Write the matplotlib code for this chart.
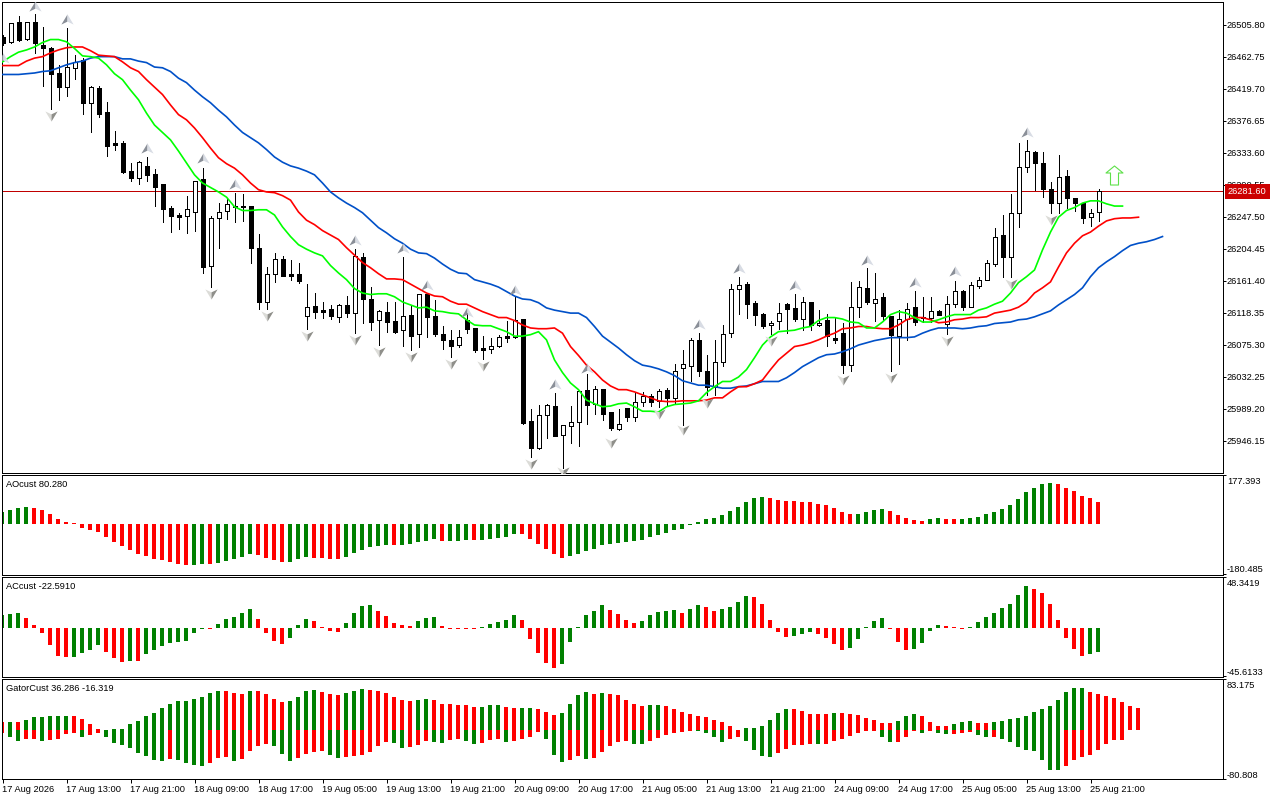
import numpy as np
import matplotlib
matplotlib.use("Agg")
import matplotlib.pyplot as plt
from matplotlib.path import Path
from matplotlib.transforms import ScaledTranslation

plt.rcParams["font.family"] = ["Liberation Sans", "DejaVu Sans"]
plt.rcParams["font.size"] = 6.7

# candles
highs = [26492,26508,26518,26510,26521,26503,26476,26452,26502,26465,
26461,26424,26424,26402,26363,26350,26320,26323,26328,26312,
26291,26262,26252,26276,26296,26313,26249,26266,26272,26280,
26278,26262,26225,26180,26199,26195,26190,26186,26157,26145,
26133,26129,26130,26141,26204,26199,26153,26122,26133,26133,
26194,26128,26144,26145,26136,26100,26095,26095,26118,26098,
26087,26085,26089,26108,26139,26110,25989,25995,25996,26011,
25968,25993,26013,26036,26020,26016,25985,25989,25991,26012,
26012,26009,26016,26017,26050,26069,26085,26091,26062,26082,
26102,26157,26167,26160,26134,26118,26108,26132,26132,26144,
26139,26133,26122,26117,26112,26105,26160,26161,26178,26172,
26145,26114,26122,26132,26148,26140,26139,26122,26141,26161,
26149,26160,26167,26190,26233,26250,26278,26347,26351,26336,
26335,26295,26331,26311,26273,26266,26258,26285]
lows = [26479,26482,26484,26486,26468,26424,26393,26405,26410,26433,
26386,26361,26382,26330,26338,26307,26296,26292,26296,26262,
26241,26227,26231,26226,26229,26172,26153,26206,26245,26241,
26242,26186,26124,26124,26160,26168,26163,26159,26097,26112,
26112,26110,26106,26113,26091,26105,26095,26075,26093,26091,
26074,26069,26073,26086,26087,26070,26059,26073,26091,26066,
26056,26064,26073,26079,26085,25969,25925,25935,25950,25953,
25910,25943,25939,25969,25982,25974,25961,25961,25973,25973,
25993,25993,25992,25995,25997,25968,26026,26034,26008,26008,
26047,26086,26117,26112,26102,26098,26090,26097,26091,26108,
26095,26095,26101,26074,26078,26038,26040,26113,26130,26108,
26109,26040,26050,26082,26102,26106,26106,26116,26090,26126,
26122,26126,26152,26163,26182,26167,26167,26234,26308,26283,
26274,26253,26253,26260,26256,26239,26235,26242]
body_top = [26490,26508,26510,26510,26510,26479,26475,26441,26449,26456,
26459,26422,26421,26389,26347,26347,26309,26321,26316,26305,
26291,26260,26250,26258,26296,26299,26246,26254,26265,26262,
26262,26262,26206,26171,26191,26191,26171,26171,26126,26128,
26122,26124,26129,26129,26195,26194,26137,26121,26120,26108,
26114,26116,26144,26144,26114,26090,26082,26086,26109,26098,
26071,26074,26086,26087,26109,26110,25973,25981,25995,25993,
25968,25972,26013,26015,26016,26016,25985,25969,25991,25999,
26007,26007,26013,26015,26040,26050,26082,26082,26040,26052,
26090,26151,26156,26157,26132,26117,26105,26118,26130,26125,
26133,26133,26105,26109,26085,26091,26126,26153,26152,26137,
26139,26114,26110,26124,26126,26113,26121,26121,26130,26148,
26148,26156,26163,26186,26221,26223,26253,26315,26336,26335,
26320,26285,26301,26303,26273,26266,26253,26282]
body_bot = [26482,26483,26486,26487,26482,26474,26439,26422,26422,26448,
26400,26400,26386,26343,26344,26308,26300,26300,26304,26287,
26258,26249,26247,26249,26254,26180,26182,26246,26256,26261,
26261,26206,26133,26133,26170,26168,26168,26161,26114,26120,
26120,26114,26113,26118,26118,26137,26106,26109,26106,26093,
26095,26087,26090,26113,26090,26082,26074,26075,26097,26069,
26069,26070,26074,26085,26086,25970,25937,25937,25981,25953,
25954,25966,25972,25995,25996,25982,25964,25962,25978,25978,
25999,25999,26000,26004,26004,26044,26047,26040,26019,26019,
26052,26091,26151,26130,26116,26101,26102,26108,26124,26110,
26110,26102,26102,26087,26082,26048,26048,26126,26133,26132,
26114,26089,26087,26110,26106,26112,26112,26116,26104,26130,
26126,26126,26155,26163,26184,26194,26194,26252,26315,26320,
26285,26266,26266,26273,26266,26246,26247,26254]
# 1 = white candle
bull = [0,1,0,1,0,0,0,0,1,1,
0,1,0,0,0,0,0,1,0,0,
0,0,0,1,1,0,1,1,1,1,
1,0,0,1,1,0,0,0,1,0,
0,0,1,0,1,0,0,1,0,0,
1,0,1,0,0,0,0,1,0,0,
0,1,1,0,1,0,0,1,1,0,
1,1,1,0,1,0,0,1,0,1,
1,0,1,0,1,1,1,0,0,1,
1,1,1,0,0,0,1,1,0,0,
1,0,1,0,0,0,1,1,0,1,
0,0,1,1,0,0,1,0,1,1,
0,1,1,1,1,0,1,1,1,0,
0,0,1,0,0,0,1,1]

# moving averages
ma_green = [26456,26463,26469,26472,26476,26482,26486,26486,26483,26474,
26464,26463,26461,26452,26440,26432,26418,26405,26387,26371,
26361,26351,26336,26320,26304,26293,26287,26281,26274,26261,
26256,26256,26257,26257,26250,26234,26221,26210,26204,26199,
26195,26182,26172,26163,26151,26145,26143,26144,26144,26140,
26133,26129,26125,26126,26121,26120,26118,26117,26109,26102,
26101,26101,26097,26093,26087,26087,26089,26093,26082,26055,
26038,26024,26015,26001,25996,25992,25993,25996,25997,25992,
25986,25986,25985,25992,25995,25996,25997,26000,26011,26019,
26026,26026,26032,26042,26058,26075,26086,26093,26094,26095,
26098,26100,26108,26112,26112,26110,26106,26105,26098,26098,
26106,26116,26120,26118,26112,26106,26106,26109,26113,26116,
26116,26116,26122,26125,26130,26134,26145,26159,26167,26176,
26203,26227,26247,26256,26260,26266,26269,26269,26265,26262,26262]
ma_red = [26451,26451,26451,26457,26461,26463,26468,26472,26475,26476,
26476,26471,26465,26464,26463,26456,26448,26443,26432,26422,
26412,26398,26385,26378,26367,26354,26340,26327,26319,26313,
26304,26293,26284,26281,26280,26276,26270,26254,26243,26237,
26229,26223,26217,26206,26196,26186,26179,26171,26164,26164,
26163,26157,26151,26145,26141,26140,26134,26130,26130,26125,
26120,26116,26112,26112,26108,26102,26098,26097,26097,26098,
26091,26073,26061,26048,26039,26028,26020,26015,26015,26012,
26008,26004,26000,25999,25999,26000,26000,26000,26001,26004,
26004,26012,26019,26019,26023,26028,26042,26055,26064,26073,
26075,26078,26082,26087,26091,26097,26098,26100,26100,26098,
26097,26097,26102,26109,26112,26112,26109,26105,26106,26109,
26110,26112,26112,26113,26118,26120,26122,26126,26133,26145,
26152,26160,26180,26199,26212,26222,26227,26235,26242,26245,
26246,26246,26247]
ma_blue = [26439,26439,26439,26440,26441,26443,26444,26448,26452,26455,
26457,26461,26463,26463,26463,26460,26460,26457,26455,26449,
26448,26443,26434,26428,26418,26409,26401,26391,26382,26371,
26361,26354,26347,26338,26328,26321,26316,26313,26309,26304,
26293,26281,26273,26266,26260,26253,26243,26233,26226,26218,
26212,26204,26199,26198,26192,26184,26177,26172,26171,26163,
26160,26157,26153,26147,26141,26137,26136,26132,26125,26122,
26120,26118,26118,26112,26100,26087,26079,26071,26062,26054,
26048,26046,26043,26039,26034,26027,26024,26021,26021,26019,
26017,26017,26019,26020,26023,26026,26026,26026,26031,26038,
26046,26052,26058,26062,26063,26066,26070,26075,26078,26081,
26083,26085,26085,26085,26086,26091,26095,26098,26098,26098,
26097,26098,26100,26101,26104,26105,26106,26109,26110,26113,
26117,26121,26129,26136,26143,26152,26167,26179,26187,26194,
26202,26209,26212,26214,26217,26221]

# fractal arrows: bar number and price
frac_up_bar = [0,4,8,18,25,29,44,50,53,58,64,69,73,87,92,99,108,114,119,128]
frac_up_price = [26461,26531,26514,26340,26326,26292,26217,26206,26156,26120,
26149,26023,26044,26104,26179,26156,26190,26160,26174,26362]
frac_dn_bar = [6,26,33,38,44,47,51,56,60,66,70,76,82,85,88,96,105,111,118,126,131]
frac_dn_price = [26383,26144,26114,26087,26082,26066,26059,26050,26047,25915,25904,
25943,25982,25961,25997,26081,26028,26031,26081,26157,26243]

# oscillators
ao_vals = [43.6,50.9,58.1,61.8,58.1,50.9,36.3,18.2,7.3,3.6,
-14.5,-21.8,-29.1,-47.2,-65.4,-79.9,-94.5,-109,-116.3,-127.2,
-130.8,-138.1,-145.3,-149,-149,-145.3,-145.3,-141.7,-134.4,-127.2,
-119.9,-109,-112.6,-123.5,-130.8,-138.1,-138.1,-127.2,-119.9,-123.5,
-123.5,-127.2,-127.2,-119.9,-105.4,-94.5,-83.6,-79.9,-76.3,-76.3,
-76.3,-72.7,-65.4,-61.8,-54.5,-61.8,-61.8,-61.8,-58.1,-58.1,
-58.1,-54.5,-50.9,-47.2,-36.3,-36.3,-54.5,-72.7,-90.8,-109,
-123.5,-116.3,-109,-98.1,-90.8,-76.3,-72.7,-69,-65.4,-61.8,
-58.1,-47.2,-40,-32.7,-21.8,-18.2,-3.6,7.3,18.2,21.8,
32.7,47.2,61.8,79.9,94.5,98.1,94.5,87.2,83.6,83.6,
79.9,79.9,72.7,69,58.1,43.6,36.3,36.3,43.6,50.9,
54.5,47.2,32.7,21.8,14.5,10.9,18.2,21.8,18.2,18.2,
18.2,21.8,25.4,36.3,43.6,54.5,69,90.8,116.3,130.8,
145.3,149,145.3,130.8,119.9,101.7,94.5,80.28]
ao_cols = ("g"*4 + "r"*20 + "g"*2 + "r" + "g"*5 + "r"*4 + "g"*3 + "r"*4 + "g"*6 + "r" + "g"*5
           + "r" + "g"*3 + "r" + "g"*5 + "r"*6 + "g"*25 + "r"*11 + "g"*4 + "r"*5 + "g"*2
           + "r"*2 + "g"*12 + "r"*6)

ac_vals = [12.2,13.2,14.1,9.4,2.8,-4.7,-16,-26.3,-27.3,-27.3,
-23.5,-20.7,-16,-22.6,-28.2,-32,-31,-31,-24.4,-20.7,
-16.9,-14.1,-13.2,-12.2,-4.7,-0.9,-0.9,3.8,8.5,10.3,
14.1,17.9,8.5,-4.7,-12.2,-15,-9.4,2.8,8.5,6.6,
0.9,-2.8,-3.8,4.7,14.1,20.7,21.6,16,11.3,4.7,
2.8,1.9,6.6,9.4,10.3,1.9,-0.9,-0.9,-0.9,-0.9,
0.9,3.8,5.6,7.5,12.2,7.5,-10.3,-23.5,-32.9,-37.6,
-33.8,-13.2,0.9,12.2,16,21.6,16.9,13.2,7.5,4.7,
6.6,12.2,15,16,16.9,14.1,17.9,21.6,19.7,16,
17.9,19.7,24.4,30.1,29.1,22.6,7.5,-3.8,-8.5,-7.5,
-5.6,-3.8,-5.6,-9.4,-15,-20.7,-18.8,-10.3,0.9,6.6,
9.4,-0.9,-13.2,-20.7,-19.7,-14.1,-2.8,2.8,1.9,0.9,
-0.9,0.9,5.6,10.3,14.1,18.8,22.6,31,39.5,36.7,
32.9,22.6,7.5,-9.4,-19.7,-26.3,-24.4,-22.59]
ac_cols = ("g"*3 + "r"*6 + "g"*4 + "r"*3 + "g" + "r" + "g"*8 + "r" + "g"*5 + "r"*4 + "g"*3 + "r"*4
           + "g"*4 + "r"*5 + "g"*3 + "r"*5 + "g"*5 + "r"*5 + "g"*6 + "r"*4 + "g"*5 + "r" + "g"*2
           + "r"*2 + "g"*4 + "r"*5 + "g"*3 + "r"*4 + "g"*5 + "r"*3 + "g"*4 + "r"*3 + "g"*8
           + "r"*7 + "g"*2)

gator_up = [13.1,13.1,13.1,16.4,21.3,21.3,23,23,23,23,
18,9.8,1.6,0.3,1.6,1.6,9.8,14.8,23,27.9,
36.1,42.6,47.6,47.6,50.8,54.1,60.7,64,64,60.7,
59,64,64,59,50.8,45.9,47.6,54.1,64,65.6,
62.3,59,57.4,60.7,64,67.2,65.6,64,60.7,54.1,
49.2,47.6,49.2,50.8,49.2,42.6,42.6,41,41,37.7,
37.7,41,41,37.7,36.1,36.1,36.1,34.4,29.5,24.6,
27.9,42.6,57.4,62.3,59,60.7,59,57.4,49.2,42.6,
39.4,41,41,39.4,34.4,29.5,26.2,23,21.3,16.4,
13.1,6.6,0.3,3.3,3.3,6.6,16.4,27.9,34.4,34.4,
31.2,26.2,26.2,26.2,27.9,27.9,26.2,24.6,19.7,16.4,
11.5,11.5,14.8,23,26.2,23,13.1,6.6,6.6,9.8,
13.1,14.8,11.5,11.5,13.1,14.8,18,19.7,23,29.5,
34.4,39.4,49.2,62.3,68.9,68.9,62.3,59,55.8,52.5,
45.9,39.4,36.286]
gator_up_cols = ("r" + "g" + "r" + "g"*6 + "r"*4 + "g"*15 + "r"*3 + "g" + "r"*4 + "g"*4 + "r"*3 + "g"*3
                 + "r"*6 + "g"*2 + "r"*6 + "g"*3 + "r"*2 + "g"*2 + "r"*3 + "g"*4 + "r" + "g" + "r"*5
                 + "g"*2 + "r"*10 + "g"*6 + "r"*5 + "g" + "r"*7 + "g"*3 + "r"*4 + "g"*3 + "r"*2
                 + "g"*12 + "r"*7)
gator_dn = [-4.9,-11.5,-18,-14.8,-14.8,-18,-16.4,-14.8,-6.6,-4.9,
-11.5,-8.2,-4.9,-11.5,-21.3,-24.6,-29.5,-37.7,-42.6,-49.2,
-50.8,-47.6,-49.2,-54.1,-57.4,-59,-54.1,-45.9,-44.3,-50.8,
-47.6,-34.4,-26.2,-23,-26.2,-39.4,-50.8,-45.9,-39.4,-36.1,
-34.4,-41,-45.9,-44.3,-42.6,-41,-36.1,-26.2,-19.7,-21.3,
-29.5,-27.9,-24.6,-18,-19.7,-21.3,-16.4,-14.8,-18,-23,
-21.3,-16.4,-14.8,-19.7,-18,-14.8,-11.5,-3.3,-14.8,-41,
-52.5,-49.2,-42.6,-47.6,-45.9,-36.1,-26.2,-19.7,-18,-23,
-23,-18,-13.1,-8.2,-4.9,-3.3,-1.6,-1.6,-4.9,-11.5,
-19.7,-14.8,-11.5,-18,-32.8,-42.6,-44.3,-37.7,-31.2,-24.6,
-24.6,-23,-23,-23,-18,-14.8,-9.8,-4.9,-1.6,-1.6,
-11.5,-19.7,-19.7,-11.5,-1.6,-4.9,-1.6,-4.9,-6.6,-6.6,
-4.9,-3.3,-8.2,-11.5,-11.5,-14.8,-19.7,-27.9,-32.8,-34.4,
-49.2,-65.6,-65.6,-59,-49.2,-44.3,-41,-32.8,-23,-16.4,-16.319]
gator_dn_cols = ("r" + "g"*2 + "r"*2 + "g" + "r"*4 + "g" + "r"*2 + "g"*8 + "r" + "g"*4 + "r"*3 + "g" + "r"*4
                 + "g"*3 + "r"*4 + "g"*2 + "r"*6 + "g"*2 + "r"*3 + "g"*2 + "r"*2 + "g"*2 + "r"*3 + "g"
                 + "r"*4 + "g"*3 + "r"*2 + "g" + "r"*5 + "g"*2 + "r"*6 + "g"*4 + "r"*2 + "g"*4 + "r"*5
                 + "g" + "r"*7 + "g"*2 + "r"*3 + "g" + "r" + "g"*2 + "r"*3 + "g"*2 + "r" + "g"*8 + "r"*8)

# axis text
price_ticks = [26505.80,26462.75,26419.70,26376.65,26333.60,26290.55,26247.50,
               26204.45,26161.40,26118.35,26075.30,26032.25,25989.20,25946.15]
time_labels = ["17 Aug 2026","17 Aug 13:00","17 Aug 21:00","18 Aug 09:00","18 Aug 17:00",
               "19 Aug 05:00","19 Aug 13:00","19 Aug 21:00","20 Aug 09:00","20 Aug 17:00",
               "21 Aug 05:00","21 Aug 13:00","21 Aug 21:00","24 Aug 09:00","24 Aug 17:00",
               "25 Aug 05:00","25 Aug 13:00","25 Aug 21:00"]
last_price = 26281.60

LEFT, RIGHT = 2, 1223
BAR_COLORS = {"g": "#008000", "r": "#ff0000"}


def add_panel(top, bottom):
    ax = fig.add_axes([LEFT/1280, 1-bottom/800, (RIGHT-LEFT)/1280, (bottom-top)/800])
    # first bar sits half a pixel inside the left border
    ax.set_xlim(-0.0625, (RIGHT-2.5)/8)
    ax.yaxis.tick_right()
    ax.tick_params(axis="y", length=2.2, width=0.72, pad=0.6)
    ax.tick_params(axis="x", length=0)
    ax.set_xticks([])
    for s in ax.spines.values():
        s.set_linewidth(0.72)
    return ax


def hist(ax, vals, cols):
    # bars sit half a pixel left of the candles
    x = np.arange(len(vals)) - 0.06
    ax.bar(x, vals, width=0.5, color=[BAR_COLORS[c] for c in cols], antialiased=False)


def osc_ticks(ax, low, high, labels):
    ax.set_yticks([low, high])
    ax.set_yticklabels(labels)
    lab = ax.get_yticklabels()
    lab[0].set_verticalalignment("bottom")
    lab[1].set_verticalalignment("top")
    # top label hangs a little below its tick
    lab[1].set_transform(lab[1].get_transform() + ScaledTranslation(0, -2.5/100, fig.dpi_scale_trans))
    lab[0].set_transform(lab[0].get_transform() + ScaledTranslation(0, -0.5/100, fig.dpi_scale_trans))


def panel_title(ax, s):
    ax.annotate(s, xy=(0, 1), xycoords="axes fraction", xytext=(4, -5),
                textcoords="offset pixels", va="top", ha="left")


fig = plt.figure(figsize=(12.8, 8), dpi=100)

# price panel
ax = add_panel(2, 473)
ax.set_ylim(25902.9, 26536.5)
ax.set_yticks(price_ticks)
ax.set_yticklabels(["%.2f" % p for p in price_ticks])

bars = np.arange(len(highs))
is_up = np.array(bull) == 1
ax.axhline(last_price, color="#c00000", lw=0.72, zorder=1)
ax.vlines(bars, lows, highs, color="black", lw=0.72, antialiased=False, zorder=2)
ax.bar(bars, np.array(body_top)-np.array(body_bot), bottom=body_bot, width=0.5,
       color=np.where(is_up, "white", "black").tolist(), edgecolor="black",
       linewidth=0.72, antialiased=False, zorder=2.5)

ax.plot(ma_blue, color="#0050c8", lw=1.2, zorder=3)
ax.plot(ma_red, color="#ff0000", lw=1.2, zorder=3.1)
ax.plot(ma_green, color="#00ff00", lw=1.2, zorder=3.2)

# fractal arrows, two shaded wings each
up_l = Path([(0, 0.83), (-1, -0.83), (0, -0.35), (0, 0.83)], closed=True)
up_r = Path([(0, 0.83), (1, -0.83), (0, -0.35), (0, 0.83)], closed=True)
dn_l = Path([(0, -0.83), (-1, 0.83), (0, 0.35), (0, -0.83)], closed=True)
dn_r = Path([(0, -0.83), (1, 0.83), (0, 0.35), (0, -0.83)], closed=True)
for m, c, xs, ys in [(up_l, "#8a8f98", frac_up_bar, frac_up_price),
                     (up_r, "#d8dce4", frac_up_bar, frac_up_price),
                     (dn_l, "#dcdcd8", frac_dn_bar, frac_dn_price),
                     (dn_r, "#8f8f8a", frac_dn_bar, frac_dn_price)]:
    ax.plot(xs, ys, ls="none", marker=m, ms=8.8, mfc=c, mec="none", zorder=4)

# signal arrow
sig = Path([(0, 9.5), (8.5, 2.5), (4, 2.5), (4, -9.5), (-4, -9.5), (-4, 2.5), (-8.5, 2.5), (0, 9.5)],
           closed=True)
ax.plot([138.9], [26303.3], ls="none", marker=sig, ms=13.7, mfc="white", mec="#5fe04a",
        mew=0.8, zorder=4)

ax.annotate("%.2f" % last_price, xy=(1, last_price), xycoords=("axes fraction", "data"),
            xytext=(5, 0), textcoords="offset pixels", va="center", ha="left", color="white",
            bbox=dict(boxstyle="square,pad=0.3", fc="#cc0000", ec="none"),
            annotation_clip=False, zorder=6)

# oscillators
ao = add_panel(475, 575)
ao.set_ylim(-184.1, 177.393)
hist(ao, ao_vals, ao_cols)
osc_ticks(ao, -180.485, 177.393, ["-180.485", "177.393"])
panel_title(ao, "AOcust 80.280")

ac = add_panel(577, 677)
ac.set_ylim(-46.55, 48.3419)
hist(ac, ac_vals, ac_cols)
osc_ticks(ac, -45.6133, 48.3419, ["-45.6133", "48.3419"])
panel_title(ac, "ACcust -22.5910")

gt = add_panel(679, 779)
gt.set_ylim(-80.808, 83.175)
hist(gt, gator_up, gator_up_cols)
hist(gt, gator_dn, gator_dn_cols)
osc_ticks(gt, -80.808, 83.175, ["-80.808", "83.175"])
panel_title(gt, "GatorCust 36.286 -16.319")

gt.set_xticks(np.arange(len(time_labels))*8)
gt.set_xticklabels(time_labels, ha="left")
gt.tick_params(axis="x", length=3, width=0.72, pad=1.5)

fig.savefig("out.png", dpi=100)
